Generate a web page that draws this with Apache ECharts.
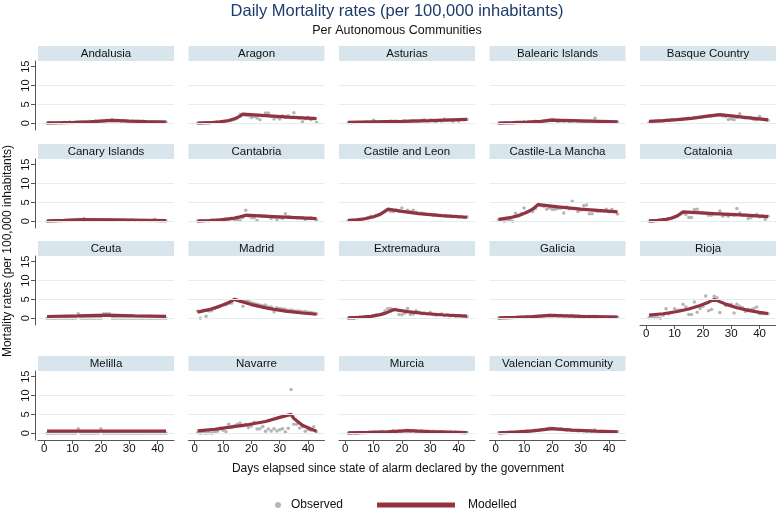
<!DOCTYPE html>
<html><head><meta charset="utf-8">
<script src="https://cdn.jsdelivr.net/npm/echarts@6/dist/echarts.min.js"></script>
<style>html,body{margin:0;padding:0;background:#fff}#c{width:776px;height:509px}</style>
</head><body><div id="c"></div>
<script>
// ---------------- DATA ----------------
const regions = ['Andalusia','Aragon','Asturias','Balearic Islands','Basque Country',
  'Canary Islands','Cantabria','Castile and Leon','Castile-La Mancha','Catalonia',
  'Ceuta','Madrid','Extremadura','Galicia','Rioja',
  'Melilla','Navarre','Murcia','Valencian Community'];
const days = [1,2,3,4,5,6,7,8,9,10,11,12,13,14,15,16,17,18,19,20,21,22,23,24,25,26,27,28,29,30,31,32,33,34,35,36,37,38,39,40,41,42,43];
const xTicks = [0,10,20,30,40];
const yTicks = [0,5,10,15];

// Observed daily rates (days 1..43)
const obsAndalusia = [0.0,0.1,0.1,0.1,0.2,0.1,0.2,0.2,0.3,0.2,0.3,0.3,0.3,0.4,0.4,0.5,0.4,0.6,0.6,0.7,0.6,0.8,0.7,1.0,0.7,0.8,0.6,0.7,0.6,0.5,0.6,0.5,0.5,0.4,0.5,0.4,0.3,0.4,0.3,0.3,0.4,0.3,0.3];
const obsAragon = [0.0,0.0,0.1,0.1,0.1,0.2,0.2,0.3,0.3,0.4,0.5,0.6,0.8,1.0,1.3,2.4,2.3,2.1,2.0,1.5,1.8,1.4,0.9,2.0,2.7,2.7,1.8,1.1,1.6,1.1,2.0,1.6,2.0,1.5,2.8,1.5,1.4,0.4,1.2,1.6,0.9,1.3,0.2];
const obsAsturias = [0.1,0.1,0.1,0.2,0.2,0.2,0.3,0.3,0.2,0.8,0.3,0.2,0.3,0.4,0.3,0.6,0.5,0.6,0.2,0.5,0.6,0.3,0.6,0.7,0.6,0.5,0.8,0.9,0.6,0.9,0.7,0.4,0.8,0.6,1.1,0.8,0.9,0.5,0.9,0.6,1.0,0.9,1.0];
const obsBalearic = [0.0,0.0,0.1,0.1,0.1,0.1,0.2,0.2,0.1,0.4,0.2,0.3,0.3,0.5,0.4,0.5,0.6,0.7,0.9,1.0,0.7,0.4,0.6,0.5,0.7,0.4,0.6,0.7,0.5,0.6,0.4,0.5,0.6,0.5,1.3,0.4,0.4,0.3,0.5,0.3,0.2,0.4,0.3];
const obsBasque = [0.2,0.3,0.5,0.5,0.6,0.6,0.8,0.7,0.9,0.9,1.0,1.0,1.1,1.2,1.4,1.3,1.5,1.5,1.6,1.7,1.8,1.9,1.9,2.0,2.2,2.1,1.9,1.8,1.0,1.1,0.9,1.6,2.5,1.6,1.4,1.5,1.3,0.9,0.9,1.8,1.1,0.9,0.8];
const obsCanary = [0.0,0.1,0.1,0.1,0.2,0.1,0.2,0.2,0.3,0.3,0.4,0.5,0.3,0.7,0.4,0.2,0.3,0.4,0.3,0.3,0.4,0.3,0.3,0.2,0.3,0.3,0.2,0.3,0.2,0.2,0.3,0.2,0.2,0.1,0.2,0.2,0.1,0.2,0.5,0.2,0.1,0.2,0.1];
const obsCantabria = [0.0,0.1,0.1,0.2,0.1,0.3,0.2,0.3,0.4,0.3,0.6,0.5,0.7,0.45,0.3,0.2,1.0,2.9,1.4,0.9,0.9,0.2,1.5,1.3,1.4,1.2,0.7,1.1,0.45,1.0,0.7,2.0,1.2,1.15,1.0,0.9,1.0,1.0,0.45,0.8,0.9,0.7,0.3];
const obsCastileLeon = [0.1,0.2,0.3,0.3,0.4,0.5,0.7,0.9,1.3,1.2,1.6,1.8,2.2,2.8,3.0,2.6,2.6,3.0,2.7,3.5,2.6,2.9,2.5,2.9,2.4,2.1,2.2,1.9,1.8,1.8,1.6,1.7,1.5,1.5,1.4,1.3,1.4,1.2,1.3,1.1,1.2,1.0,1.1];
const obsCastileLaMancha = [0.4,0.3,0.0,0.2,0.4,0.0,2.1,1.5,2.0,3.5,2.5,2.8,2.6,3.3,4.4,4.2,3.9,3.2,3.6,3.1,3.2,3.4,3.5,2.2,3.8,3.3,5.3,3.4,2.6,3.0,4.1,4.3,2.0,2.0,2.8,2.6,2.7,2.7,3.2,2.5,3.1,2.6,1.9];
const obsCatalonia = [0.0,0.0,0.1,0.1,0.2,0.3,0.4,0.6,0.8,1.0,1.3,1.8,2.2,1.8,1.0,1.0,3.1,3.2,2.3,2.2,2.1,1.6,1.6,1.9,2.0,2.7,1.3,1.7,1.3,1.8,1.6,3.4,2.2,1.5,1.6,0.7,1.0,1.5,1.8,1.1,1.4,0.5,1.3];
const obsCeuta = [0,0,0,0,0,0,0,0,0,0,0,1.2,0,0,0,0,0,0,0,0,1.2,1.2,1.2,0,0,0,0,0,0,0,0,0,0,0,0,0,0,0,0,0,0,0,0];
const obsMadrid = [1.9,0.0,2.1,0.5,1.9,2.0,2.6,2.9,3.3,3.6,3.5,3.9,4.0,5.0,4.7,4.4,3.2,4.5,4.6,4.1,3.9,3.7,3.5,3.3,3.5,3.0,3.0,1.7,2.8,2.6,2.5,2.4,2.1,2.2,2.0,1.9,1.9,1.7,1.8,1.6,1.5,1.4,1.2];
const obsExtremadura = [0.0,0.1,0.0,0.2,0.3,0.2,0.4,0.5,0.4,0.7,0.9,1.0,1.2,1.9,2.5,2.6,2.2,2.4,1.0,0.9,1.3,2.6,1.0,1.1,2.0,1.6,1.2,1.4,1.1,1.5,1.0,0.8,0.9,1.1,0.7,1.0,0.6,0.8,0.5,0.7,0.6,0.5,0.4];
const obsGalicia = [0.0,0.1,0.1,0.1,0.1,0.2,0.2,0.2,0.3,0.2,0.3,0.3,0.4,0.4,0.5,0.5,0.6,0.7,0.8,0.7,0.8,0.6,0.7,0.6,0.7,0.6,0.8,0.5,0.6,0.5,0.5,0.4,0.5,0.4,0.5,0.4,0.3,0.4,0.3,0.4,0.3,0.3,0.3];
const obsRioja = [0.1,0.2,0.1,0.1,0.0,0.8,2.5,1.1,1.5,2.5,2.1,2.2,3.7,3.0,1.0,1.0,4.3,1.6,2.6,3.2,5.9,2.0,2.3,5.8,5.4,1.5,4.2,3.4,3.6,3.7,1.4,3.7,3.2,2.8,1.8,2.4,2.3,2.6,3.0,1.2,1.2,1.2,1.2];
const obsMelilla = [0,0,0,0,0,0,0,0,0,0,0,1.2,0,0,0,0,0,0,0,1.2,0,0,0,0,0,0,0,0,0,0,0,0,0,0,0,0,0,0,0,0,0,0,0];
const obsNavarre = [0.1,0.0,0.1,0.0,0.1,0.0,0.2,0.5,1.4,0.8,0.4,2.4,1.5,1.9,2.4,2.7,2.0,2.4,1.5,1.9,2.9,1.1,1.2,1.8,0.5,1.1,0.6,1.2,0.6,0.9,1.2,0.35,1.3,11.6,2.4,2.4,1.4,1.7,0.5,1.0,0.8,1.7,0.3];
const obsMurcia = [0.0,0.1,0.1,0.0,0.1,0.2,0.1,0.2,0.2,0.3,0.2,0.3,0.5,0.3,0.4,0.5,0.7,0.4,0.6,0.5,0.7,0.8,0.6,0.7,0.5,0.4,0.6,0.4,0.5,0.3,0.5,0.4,0.3,0.4,0.3,0.2,0.3,0.2,0.3,0.2,0.2,0.1,0.2];
const obsValencian = [0.1,0.1,0.2,0.2,0.3,0.3,0.4,0.3,0.5,0.5,0.6,0.5,0.7,0.8,0.7,0.9,1.0,1.2,1.4,1.3,1.1,1.0,1.2,0.9,0.8,0.9,0.7,0.8,0.6,0.8,0.7,0.5,0.7,0.6,0.9,0.5,0.5,0.4,0.5,0.4,0.4,0.3,0.4];

// Modelled curves as [day, rate] knots
const modAndalusia = [[1,0.1],[6,0.15],[11,0.24],[16,0.37],[20,0.53],[24,0.75],[30,0.56],[36,0.42],[43,0.3]];
const modAragon = [[1,0.05],[5,0.13],[9,0.35],[12,0.72],[14,1.16],[16,1.87],[17,2.4],[25,2.0],[33,1.6],[43,1.2]];
const modAsturias = [[1,0.2],[10,0.35],[20,0.5],[30,0.7],[43,1.0]];
const modBalearic = [[1,0.05],[6,0.15],[11,0.3],[16,0.5],[20,0.8],[30,0.6],[43,0.35]];
const modBasque = [[1,0.5],[6,0.7],[11,0.95],[16,1.3],[21,1.8],[26,2.3],[34,1.6],[43,0.9]];
const modCanary = [[1,0.1],[7,0.2],[14,0.45],[25,0.35],[43,0.15]];
const modCantabria = [[1,0.1],[5,0.19],[9,0.37],[12,0.6],[14,0.83],[16,1.15],[18,1.6],[26,1.3],[34,1.0],[43,0.7]];
const modCastileLeon = [[1,0.2],[4,0.36],[7,0.65],[10,1.17],[12,1.7],[14,2.6],[15,3.2],[20,2.6],[26,2.0],[34,1.5],[43,1.05]];
const modCastileLaMancha = [[1,0.5],[5,0.93],[8,1.48],[11,2.35],[13,3.2],[15,4.4],[22,3.8],[30,3.2],[43,2.5]];
const modCatalonia = [[1,0.1],[4,0.22],[7,0.5],[9,0.85],[11,1.46],[13,2.5],[24,2.0],[35,1.6],[43,1.2]];
const modCeuta = [[1,0.45],[12,0.6],[22,0.8],[32,0.65],[43,0.5]];
const modMadrid = [[1,1.6],[5,2.27],[9,3.2],[12,4.15],[14,5.0],[20,3.62],[26,2.62],[32,1.9],[38,1.38],[43,1.05]];
const modExtremadura = [[1,0.1],[5,0.22],[9,0.48],[12,0.87],[14,1.28],[16,1.9],[17,2.3],[22,1.75],[28,1.25],[35,0.85],[43,0.55]];
const modGalicia = [[1,0.1],[7,0.2],[13,0.4],[19,0.75],[30,0.5],[43,0.3]];
const modRioja = [[1,0.8],[6,1.19],[11,1.77],[15,2.44],[19,3.36],[22,4.26],[24,5.0],[28,3.73],[32,2.78],[36,2.08],[40,1.55],[43,1.24]];
const modMelilla = [[1,0.55],[43,0.55]];
const modNavarre = [[1,0.6],[7,1.0],[13,1.7],[19,2.3],[25,3.1],[30,4.2],[34,5.0],[35,3.9],[38,2.1],[41,1.1],[43,0.55]];
const modMurcia = [[1,0.1],[8,0.2],[15,0.35],[22,0.7],[30,0.4],[43,0.15]];
const modValencian = [[1,0.1],[7,0.3],[13,0.6],[20,1.2],[27,0.8],[35,0.55],[43,0.35]];

// ---------------- BUILD ----------------
const observed = [obsAndalusia,obsAragon,obsAsturias,obsBalearic,obsBasque,obsCanary,obsCantabria,obsCastileLeon,obsCastileLaMancha,obsCatalonia,obsCeuta,obsMadrid,obsExtremadura,obsGalicia,obsRioja,obsMelilla,obsNavarre,obsMurcia,obsValencian];
const modelled = [modAndalusia,modAragon,modAsturias,modBalearic,modBasque,modCanary,modCantabria,modCastileLeon,modCastileLaMancha,modCatalonia,modCeuta,modMadrid,modExtremadura,modGalicia,modRioja,modMelilla,modNavarre,modMurcia,modValencian];

const FONT = "'Liberation Sans', Arial, sans-serif";
const colLeft = [38, 188.5, 339, 489.5, 640];
const rowTop = [61, 159, 256, 371];
const PW = 136, PH = 69, SH = 15;
const AXC = '#555555';

const grids = [], xAxes = [], yAxes = [], series = [], graphics = [];
regions.forEach((name, i) => {
  const r = Math.floor(i / 5), c = i % 5;
  const showX = (r === 3) || (name === 'Rioja');
  const showY = (c === 0);
  grids.push({left: colLeft[c], top: rowTop[r], width: PW, height: PH});
  xAxes.push({gridIndex: i, type: 'value', min: -2.2, max: 45.8,
    axisLine: {show: showX, onZero: false, lineStyle: {color: AXC, width: 1}},
    axisTick: {show: showX, length: 4, customValues: xTicks, lineStyle: {color: AXC}},
    axisLabel: {show: showX, customValues: xTicks, margin: 3, fontSize: 11.5, color: '#111', fontFamily: FONT},
    splitLine: {show: false}});
  yAxes.push({gridIndex: i, type: 'value', min: -1.8, max: 16.5, offset: 3,
    axisLine: {show: showY, onZero: false, lineStyle: {color: AXC, width: 1}},
    axisTick: {show: showY, length: 4, customValues: yTicks, lineStyle: {color: AXC}},
    axisLabel: {show: showY, customValues: yTicks, rotate: 90, margin: 4, fontSize: 11, color: '#111', fontFamily: FONT},
    splitLine: {show: false}});
  series.push({type: 'line', xAxisIndex: i, yAxisIndex: i, data: [], silent: true, z: 1,
    markLine: {silent: true, symbol: 'none', animation: false, label: {show: false},
      lineStyle: {color: '#e3ecef', width: 1, type: 'solid'},
      data: [{yAxis: 0}, {yAxis: 5}, {yAxis: 10}]}});
  series.push({type: 'scatter', name: 'Observed', xAxisIndex: i, yAxisIndex: i, z: 2,
    symbolSize: 3.5, itemStyle: {color: '#a3a3a3'}, silent: true,
    data: days.map((d, k) => [d, observed[i][k]])});
  series.push({type: 'line', name: 'Modelled', xAxisIndex: i, yAxisIndex: i, z: 3,
    symbol: 'none', showSymbol: false, silent: true,
    lineStyle: {color: '#913341', width: 3.2}, itemStyle: {color: '#913341'},
    data: modelled[i]});
  graphics.push({type: 'rect', left: colLeft[c], top: rowTop[r] - SH,
    shape: {width: PW, height: SH}, style: {fill: '#d9e5ec'}, silent: true});
  graphics.push({type: 'text', x: colLeft[c] + PW / 2, y: rowTop[r] - SH / 2,
    style: {text: name, fill: '#111', font: '11.5px ' + FONT, textAlign: 'center', textVerticalAlign: 'middle'}, silent: true});
});

graphics.push({type: 'text', x: 397, y: 11, style: {text: 'Daily Mortality rates (per 100,000 inhabitants)',
  fill: '#1c3a6b', font: '16.5px ' + FONT, textAlign: 'center', textVerticalAlign: 'middle'}});
graphics.push({type: 'text', x: 397, y: 31, style: {text: 'Per Autonomous Communities',
  fill: '#111', font: '12.5px ' + FONT, textAlign: 'center', textVerticalAlign: 'middle'}});
graphics.push({type: 'text', x: 398, y: 469, style: {text: 'Days elapsed since state of alarm declared by the government',
  fill: '#111', font: '12px ' + FONT, textAlign: 'center', textVerticalAlign: 'middle'}});
graphics.push({type: 'text', x: 8, y: 251, rotation: Math.PI / 2, style: {text: 'Mortality rates (per 100,000 inhabitants)',
  fill: '#111', font: '12px ' + FONT, textAlign: 'center', textVerticalAlign: 'middle'}});

const chart = echarts.init(document.getElementById('c'), null, {renderer: 'canvas'});
chart.setOption({
  animation: false,
  backgroundColor: '#ffffff',
  grid: grids, xAxis: xAxes, yAxis: yAxes, series: series,
  graphic: graphics,
  legend: [
    {data: ['Observed'], left: 275, top: 499, padding: 0, icon: 'circle', itemWidth: 6, itemHeight: 6,
      textStyle: {fontSize: 12, fontFamily: FONT, color: '#111', padding: [0, 0, 0, 5]}},
    {data: ['Modelled'], left: 377, top: 499, padding: 0, icon: 'rect', itemWidth: 78, itemHeight: 5,
      textStyle: {fontSize: 12, fontFamily: FONT, color: '#111', padding: [0, 0, 0, 8]}}
  ]
});
</script></body></html>
